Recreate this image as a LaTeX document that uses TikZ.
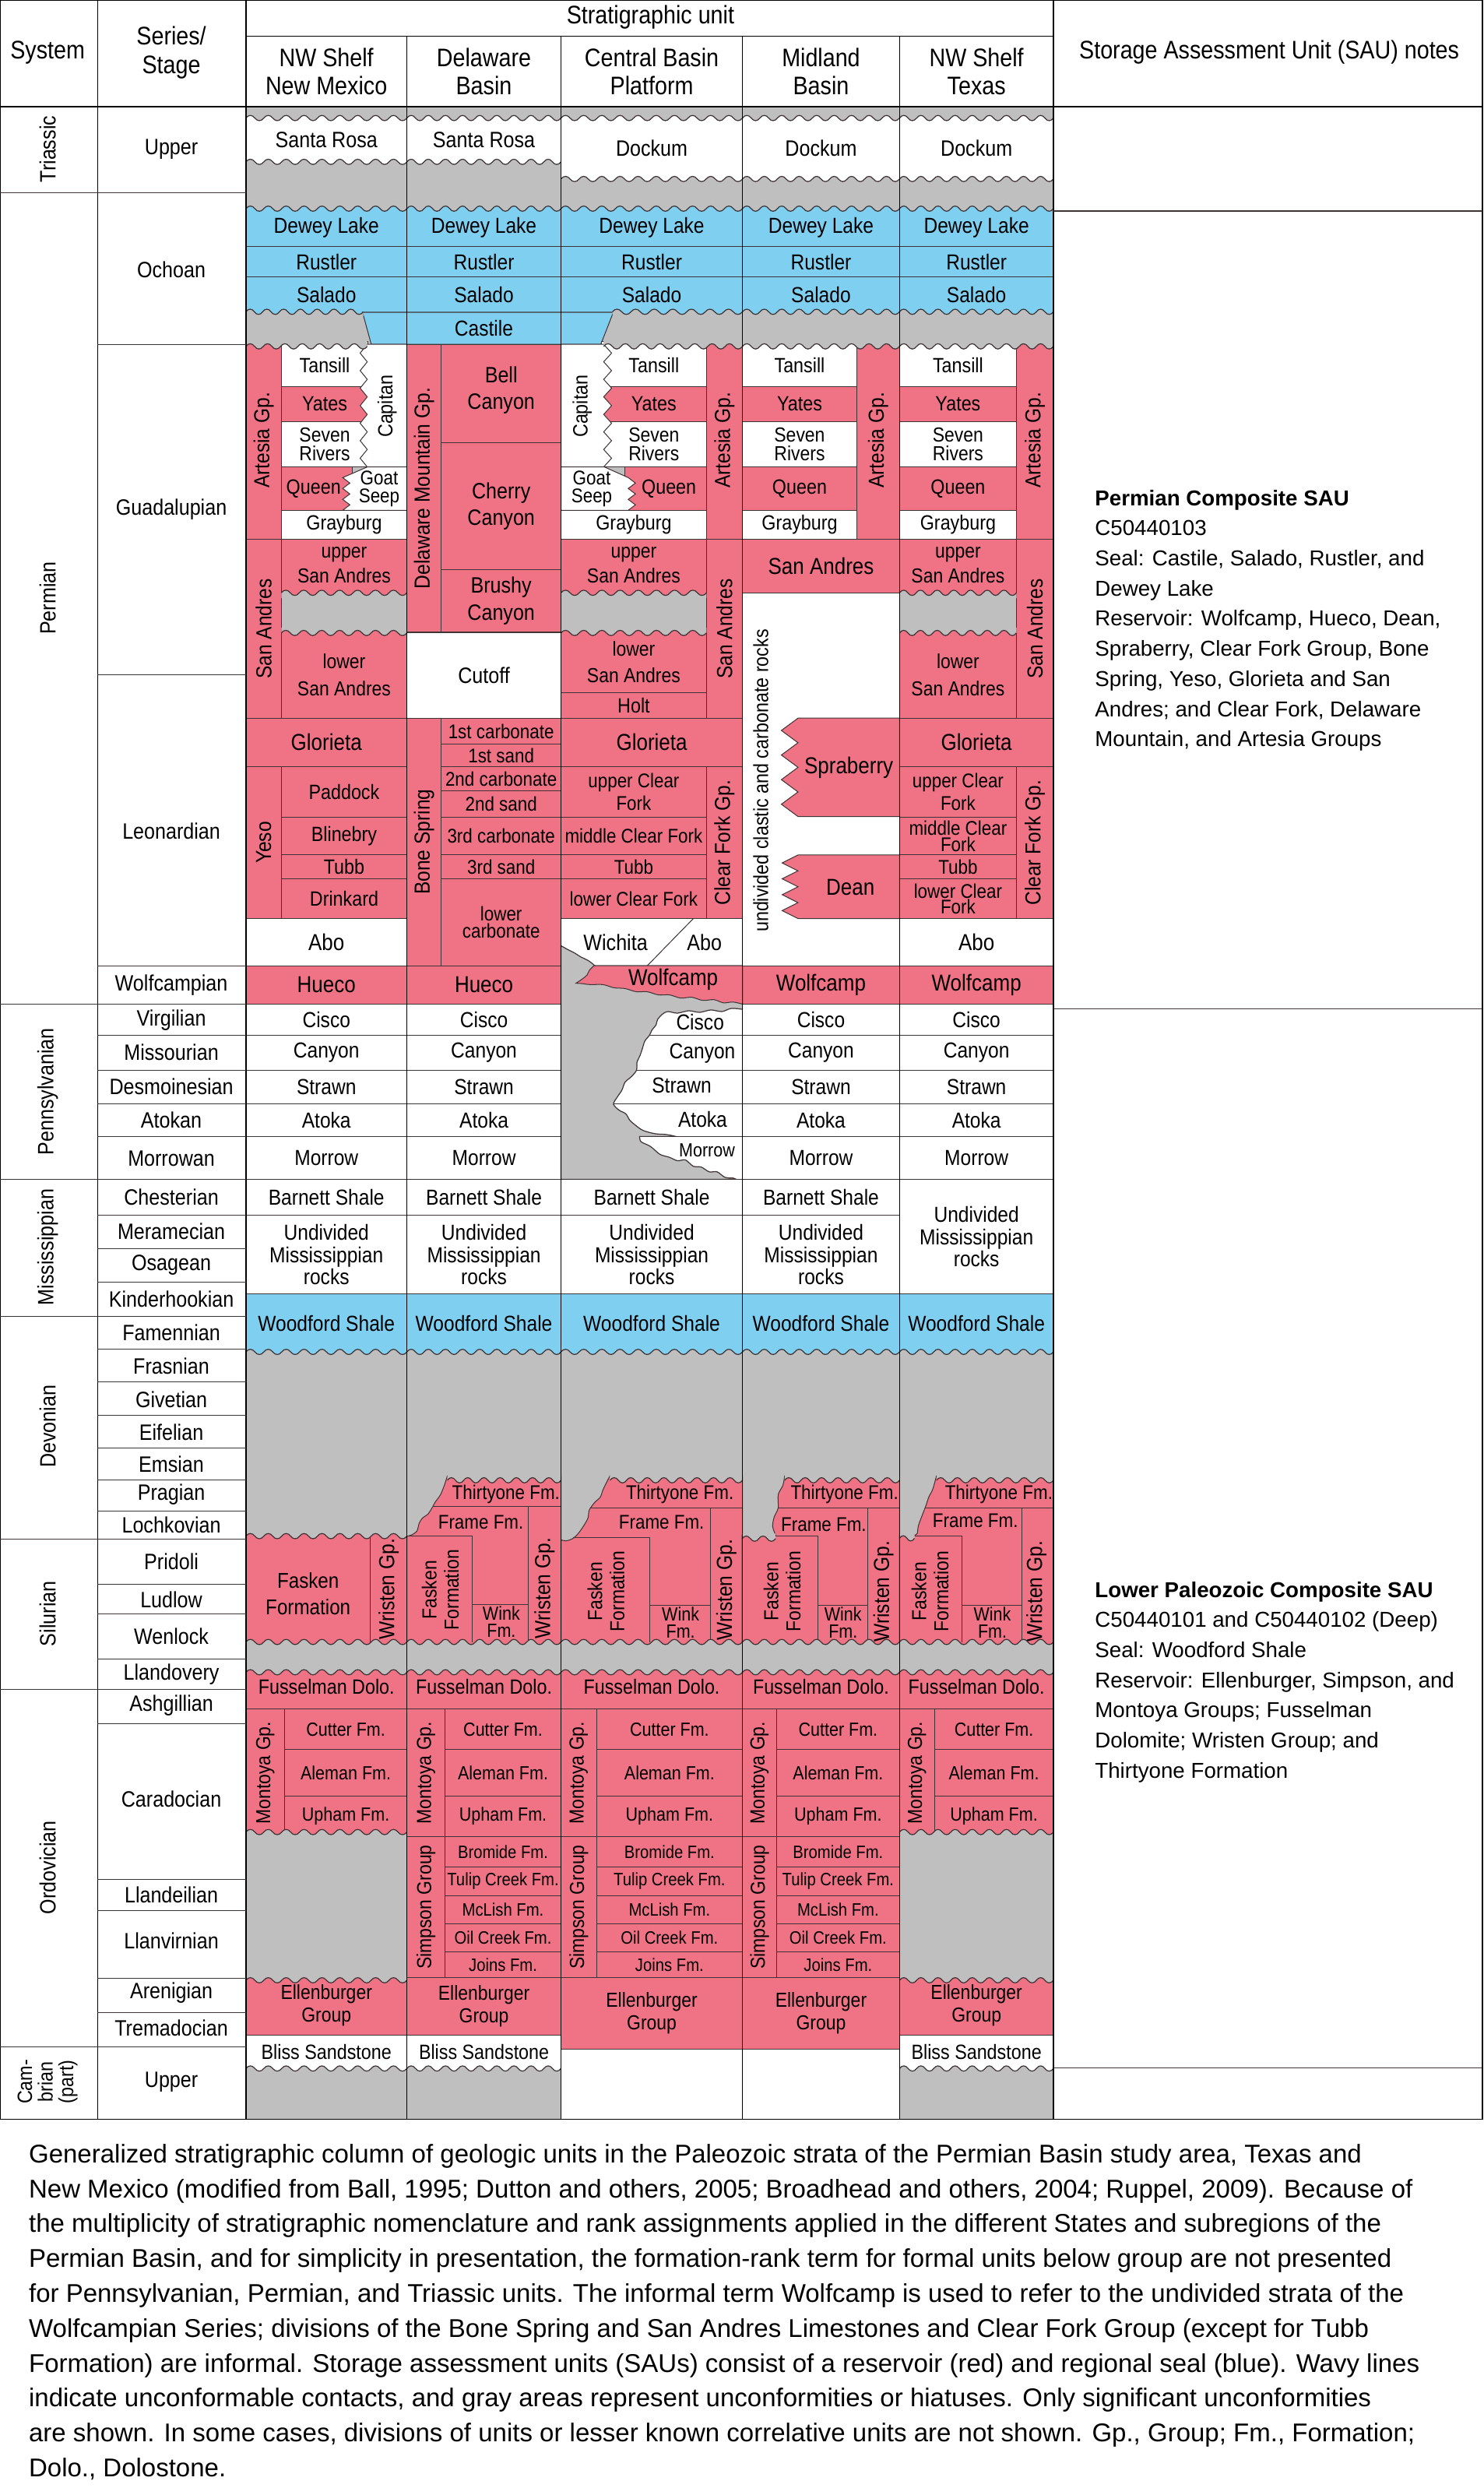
\documentclass[tikz,border=0pt]{standalone}
\usepackage{fontspec}
\setmainfont{Liberation Sans}
\newfontfamily\cf[FakeStretch=0.88]{Liberation Sans}
\usetikzlibrary{positioning}

\definecolor{resred}{RGB}{240,115,133}
\definecolor{sealblue}{RGB}{127,207,241}
\definecolor{gapgray}{RGB}{191,191,191}
\definecolor{edgeline}{RGB}{62,52,54}

\tikzset{
  fs/.style={font=\cf\fontsize{#1}{#1}\selectfont},
  fsl/.style 2 args={font=\cf\fontsize{#1}{#2}\selectfont},
  lbl/.style={fs=13, align=center, inner sep=0pt},
  vlbl/.style={lbl, rotate=90, fs=13.7},
  ru/.style={draw=edgeline, line width=0.5pt, fill=resred},
  bu/.style={draw=edgeline, line width=0.5pt, fill=sealblue},
  wu/.style={draw=edgeline, line width=0.5pt, fill=white},
  wavy/.style={draw=edgeline, line width=0.6pt},
  divline/.style={draw=edgeline, line width=0.5pt},
  colrule/.style={draw=black, line width=0.7pt},
}

% unit box with its label in the middle
\NewDocumentCommand\cellbox{O{ru} m m m m O{} m}{%
  \path[#1] (#2,#3) rectangle (#4,#5);
  \node[lbl,#6] at ({(#2+#4)/2},{(#3+#5)/2}) {#7};}
\NewDocumentCommand\vcellbox{O{ru} m m m m O{} m}{%
  \path[#1] (#2,#3) rectangle (#4,#5);
  \node[vlbl,#6] at ({(#2+#4)/2},{(#3+#5)/2}) {#7};}
% wavy contact: gray from the wave to #4
\newcommand\wamp{2.2}
\newcommand\setwave[2]{\pgfmathtruncatemacro\wn{max(1,round((#2-#1)/11))}\pgfmathsetmacro\wlen{(#2-#1)/\wn}}
\newcommand\wpath[2]{foreach \k in {1,...,\wn}{ .. controls ({#1+(\k-0.85)*\wlen},{#2-\wamp}) and ({#1+(\k-0.65)*\wlen},{#2-\wamp}) .. ({#1+(\k-0.5)*\wlen},{#2}) .. controls ({#1+(\k-0.35)*\wlen},{#2+\wamp}) and ({#1+(\k-0.15)*\wlen},{#2+\wamp}) .. ({#1+\k*\wlen},{#2}) }}
\newcommand\wcap[4]{\setwave{#1}{#2}%
  \fill[gapgray] (#1,#4) -- (#1,#3) \wpath{#1}{#3} -- (#2,#4) -- cycle;
  \draw[wavy] (#1,#3) \wpath{#1}{#3};}
% interfingering edge
\newcommand\zig[5]{foreach \k in {1,...,#5}{ -- ({#2},{#3+(\k-0.5)*(#4-#3)/#5}) -- ({#1},{#3+\k*(#4-#3)/#5}) }}

\begin{document}
\begin{tikzpicture}[x=1pt,y=-1pt]
\useasboundingbox (0,0) rectangle (935,1568);
\fill[white] (0,0) rectangle (935,1568);
% hiatus background
\fill[gapgray] (155,67) rectangle (664,1335.5);

% ---- Triassic
\cellbox[wu]{155}{71.9}{256.5}{104.5}[fs=14]{Santa Rosa}
\cellbox[wu]{256.5}{71.9}{353.6}{104.5}[fs=14]{Santa Rosa}
\foreach \xa/\xb in {353.6/468,468/567,567/664}
  {\cellbox[wu]{\xa}{71.9}{\xb}{115.3}[fs=14]{Dockum}}
\foreach \xa/\xb in {155/256.5,256.5/353.6,353.6/468,468/567,567/664}
  {\wcap{\xa}{\xb}{74.4}{70.5}}
\foreach \xa/\xb in {155/256.5,256.5/353.6}{\wcap{\xa}{\xb}{102}{105.8}}
\foreach \xa/\xb in {353.6/468,468/567,567/664}{\wcap{\xa}{\xb}{112.8}{116.6}}

% ---- Ochoan (seal)
\foreach \xa/\xb in {155/256.5,256.5/353.6,353.6/468,468/567,567/664}{
  \cellbox[bu]{\xa}{129}{\xb}{155.3}[fs=13.7,yshift=-1.2]{Dewey Lake}
  \cellbox[bu]{\xa}{155.3}{\xb}{174.6}[fs=13.7]{Rustler}
  \cellbox[bu]{\xa}{174.6}{\xb}{199}[fs=13.7,yshift=1.2]{Salado}
  \wcap{\xa}{\xb}{131.5}{127.8}}
\filldraw[bu] (228.5,196.8) -- (386.6,196.8) -- (378.7,217) -- (234,217) -- cycle;
\node[lbl,fs=13.7] at (305,207) {Castile};
\wcap{155}{229}{196.5}{199.6}
\foreach \xa/\xb in {386/468,468/567,567/664}{\wcap{\xa}{\xb}{196.5}{199.6}}

% ---- Guadalupian, NW Shelf New Mexico
\vcellbox{155}{215}{177.3}{340}{Artesia Gp.}
\cellbox[wu]{177.3}{215}{232}{243.6}[yshift=-1]{Tansill}
\cellbox{177.3}{243.6}{232}{265.7}{Yates}
\cellbox[wu]{177.3}{265.7}{232}{294.3}[fsl={12.8}{12}]{Seven\\Rivers}
\filldraw[wu] (256.5,217) -- (231.5,217) \zig{231.5}{227}{217}{294.3}{7} -- (256.5,294.3) -- cycle;
\node[vlbl,fs=13] at (244,256) {Capitan};
\cellbox{177.3}{294.3}{222}{321.6}[xshift=-2]{Queen}
\filldraw[wu] (256.5,294.3) -- (231.5,294.3) -- (216,301) \zig{216}{220.5}{301}{321.6}{3} -- (256.5,321.6) -- cycle;
\node[lbl,fsl={12.5}{11}] at (239,308) {Goat\\Seep};
\cellbox[wu]{177.3}{321.6}{256.5}{340}{Grayburg}
% Delaware Basin
\vcellbox{256.5}{217}{278.2}{398.5}{Delaware Mountain Gp.}
\cellbox{278.2}{217}{353.6}{279}[fsl={14}{17},yshift=2]{Bell\\Canyon}
\cellbox{278.2}{279}{353.6}{359}[fsl={14}{17}]{Cherry\\Canyon}
\cellbox{278.2}{359}{353.6}{398.5}[fsl={14}{17}]{Brushy\\Canyon}
\cellbox[wu]{256.5}{398.5}{353.6}{452.6}[fs=14]{Cutoff}
% Central Basin Platform
\cellbox[wu]{379}{215}{445.3}{243.6}[yshift=-1]{Tansill}
\cellbox{379}{243.6}{445.3}{265.7}{Yates}
\cellbox[wu]{379}{265.7}{445.3}{294.3}[fsl={12.8}{12}]{Seven\\Rivers}
\filldraw[wu] (353.6,217) -- (380.5,217) \zig{380.5}{385.5}{217}{294.3}{7} -- (353.6,294.3) -- cycle;
\node[vlbl,fs=13] at (367,256) {Capitan};
\cellbox{394}{294.3}{445.3}{321.6}[xshift=2]{Queen}
\filldraw[wu] (353.6,294.3) -- (381,294.3) -- (396,301) \zig{396}{400.5}{301}{321.6}{3} -- (353.6,321.6) -- cycle;
\node[lbl,fsl={12.5}{11}] at (373,308) {Goat\\Seep};
\cellbox[wu]{353.6}{321.6}{445.3}{340}{Grayburg}
\vcellbox{445.3}{215}{468}{340}{Artesia Gp.}
% Midland Basin
\cellbox[wu]{468}{215}{540}{243.6}[yshift=-1]{Tansill}
\cellbox{468}{243.6}{540}{265.7}{Yates}
\cellbox[wu]{468}{265.7}{540}{294.3}[fsl={12.8}{12}]{Seven\\Rivers}
\cellbox{468}{294.3}{540}{321.6}{Queen}
\cellbox[wu]{468}{321.6}{540}{340}{Grayburg}
\vcellbox{540}{215}{567}{340}{Artesia Gp.}
\cellbox{468}{340}{567}{373.6}[fs=14.5]{San Andres}
\path[wu] (468,373.6) rectangle (567,608.6);
\node[vlbl,fs=13] at (479.5,492) {undivided clastic and carbonate rocks};
\filldraw[ru] (567,452.6) -- (503,452.6) \zig{503}{492.5}{452.6}{514.6}{4} -- (567,514.6) -- cycle;
\node[lbl,fs=14.5] at (535,484) {Spraberry};
\filldraw[ru] (567,538.8) -- (503,538.8) \zig{503}{493}{538.8}{578.9}{4} -- (567,578.9) -- cycle;
\node[lbl,fs=14.5] at (536,559) {Dean};
% NW Shelf Texas
\cellbox[wu]{567}{215}{640.7}{243.6}[yshift=-1]{Tansill}
\cellbox{567}{243.6}{640.7}{265.7}{Yates}
\cellbox[wu]{567}{265.7}{640.7}{294.3}[fsl={12.8}{12}]{Seven\\Rivers}
\cellbox{567}{294.3}{640.7}{321.6}{Queen}
\cellbox[wu]{567}{321.6}{640.7}{340}{Grayburg}
\vcellbox{640.7}{215}{664}{340}{Artesia Gp.}
\wcap{155}{231.5}{218.3}{214.6}
\wcap{380.5}{468}{218.3}{214.6}
\wcap{468}{567}{218.3}{214.6}
\wcap{567}{664}{218.3}{214.6}
% San Andres
\foreach \xa/\xb in {155/177.3,445.3/468,640.7/664}{\vcellbox{\xa}{340}{\xb}{452.6}{San Andres}}
\foreach \xa/\xb in {177.3/256.5,353.6/445.3,567/640.7}{
  \cellbox{\xa}{340}{\xb}{376.2}[fsl={12.8}{16},yshift=2]{upper\\San Andres}
  \wcap{\xa}{\xb}{373.6}{377}}
\foreach \xa/\xb in {177.3/256.5,567/640.7}{
  \cellbox{\xa}{396.3}{\xb}{452.6}[fsl={12.8}{17},yshift=-1]{lower\\San Andres}
  \wcap{\xa}{\xb}{398.9}{395.5}}
\cellbox{353.6}{396.3}{445.3}{436.3}[fsl={12.8}{17},yshift=-1]{lower\\San Andres}
\wcap{353.6}{445.3}{398.9}{395.5}
\cellbox{353.6}{436.3}{445.3}{452.6}{Holt}

% ---- Leonardian and Wolfcampian
\foreach \xa/\xb in {155/256.5,353.6/468,567/664}{\cellbox{\xa}{452.6}{\xb}{483.2}[fs=14.5]{Glorieta}}
\vcellbox{155}{483.2}{177.3}{578.9}{Yeso}
\cellbox{177.3}{483.2}{256.5}{515.1}{Paddock}
\cellbox{177.3}{515.1}{256.5}{538.8}{Blinebry}
\cellbox{177.3}{538.8}{256.5}{554}{Tubb}
\cellbox{177.3}{554}{256.5}{578.9}{Drinkard}
\cellbox[wu]{155}{578.9}{256.5}{608.6}[fs=14.5]{Abo}
\foreach \xa/\xb in {155/256.5,256.5/353.6}{\cellbox{\xa}{608.6}{\xb}{632.8}[fs=14.5]{Hueco}}
\vcellbox{256.5}{452.6}{278.2}{608.6}{Bone Spring}
\cellbox{278.2}{452.6}{353.6}{469}[fs=12.5]{1st carbonate}
\cellbox{278.2}{469}{353.6}{483.2}[fs=12.5]{1st sand}
\cellbox{278.2}{483.2}{353.6}{498.4}[fs=12.5]{2nd carbonate}
\cellbox{278.2}{498.4}{353.6}{515.1}[fs=12.5]{2nd sand}
\cellbox{278.2}{515.1}{353.6}{538.8}[fs=12.5]{3rd carbonate}
\cellbox{278.2}{538.8}{353.6}{554}[fs=12.5]{3rd sand}
\cellbox{278.2}{554}{353.6}{608.6}[fsl={12.5}{11}]{lower\\carbonate}
\cellbox{353.6}{483.2}{445.3}{515.1}[fsl={12.5}{14}]{upper Clear\\Fork}
\cellbox{353.6}{515.1}{445.3}{538.8}[fs=12.5]{middle Clear Fork}
\cellbox{353.6}{538.8}{445.3}{554}[fs=12.5]{Tubb}
\cellbox{353.6}{554}{445.3}{578.9}[fs=12.5]{lower Clear Fork}
\vcellbox{445.3}{483.2}{468}{578.9}{Clear Fork Gp.}
\cellbox{567}{483.2}{640.7}{515.1}[fsl={12.5}{14}]{upper Clear\\Fork}
\cellbox{567}{515.1}{640.7}{538.8}[fsl={12.5}{10}]{middle Clear\\Fork}
\cellbox{567}{538.8}{640.7}{554}[fs=12.5]{Tubb}
\cellbox{567}{554}{640.7}{578.9}[fsl={12.5}{10}]{lower Clear\\Fork}
\vcellbox{640.7}{483.2}{664}{578.9}{Clear Fork Gp.}
\cellbox[wu]{567}{578.9}{664}{608.6}[fs=14.5]{Abo}
\foreach \xa/\xb in {468/567,567/664}{\cellbox{\xa}{608.6}{\xb}{632.8}[fs=14.5]{Wolfcamp}}
\path[wu] (353.6,578.9) rectangle (468,608.6);
\draw[divline] (437,578.9) -- (408,608.6);

% ---- Pennsylvanian
\foreach \xa/\xb in {155/256.5,256.5/353.6,468/567,567/664}{
  \cellbox[wu]{\xa}{632.8}{\xb}{652.4}[fs=13.7]{Cisco}
  \cellbox[wu]{\xa}{652.4}{\xb}{674.5}[fs=13.7]{Canyon}
  \cellbox[wu]{\xa}{674.5}{\xb}{695.8}[fs=13.7]{Strawn}
  \cellbox[wu]{\xa}{695.8}{\xb}{716.2}[fs=13.7]{Atoka}
  \cellbox[wu]{\xa}{716.2}{\xb}{743.2}[fs=13.7]{Morrow}}
\foreach \ya/\yb in {632.8/652.4,652.4/674.5,674.5/695.8,695.8/716.2,716.2/743.2}
  {\path[wu] (353.6,\ya) rectangle (468,\yb);}
% hiatus wedge on the platform
\filldraw[fill=gapgray, draw=edgeline, line width=0.6pt] (353.6,596)
  -- plot[smooth] coordinates {(353.6,596) (358,598.5) (362,600.5) (366,603) (371,605.5) (375,608.6)}
  -- (468,608.6) -- (468,636.1)
  -- plot[smooth] coordinates {(468,636.1) (461,635.5) (455,637.5) (448,636.5) (441,638) (434,637) (427,638.5) (421,637.5) (417.7,639)
      (414.5,642.5) (413.5,646) (411,649) (409.4,652.4) (406.5,656) (405,660.5) (403.5,665) (401.5,669.5) (401.2,674.5)
      (398,678.5) (394,682) (392,687) (389,691.5) (386.7,695.8) (390,699.5) (394.5,702) (397,706) (401,709.5) (405.5,712.5) (413,714.5) (420,715) (426,716.2)}
  -- (403.2,716.2)
  -- plot[smooth] coordinates {(403.2,716.2) (404,719.5) (410,722.5) (416,727.5) (421.8,729.3) (427,731.5) (432,731) (437,735) (442,735.5) (447,738.5) (452,738.5) (457,742) (462.1,742.4)}
  -- (464,743.2) -- (353.6,743.2) -- cycle;
\filldraw[ru] (374.4,608.6) -- (468,608.6) -- (468,632.8)
  -- plot[smooth] coordinates {(468,632.8) (462,631.5) (456,632) (450,630) (443,630.5) (436,628.5) (429,629) (422,627) (415,627) (408,625) (401,625) (394,623) (387,622.5) (380,620.5) (372,620.5) (366,619.8) (363,619.7)}
  -- plot[smooth] coordinates {(363,619.7) (367,617) (370,614.5) (371.5,611.5) (374.4,608.6)} -- cycle;
\node[lbl,fs=14] at (388,594) {Wichita};
\node[lbl,fs=14] at (444,594) {Abo};
\node[lbl,fs=14.5] at (424.3,617.3) {Wolfcamp};
\node[lbl,fs=13.7] at (441.3,644.3) {Cisco};
\node[lbl,fs=13.7] at (442.7,663.9) {Canyon};
\node[lbl,fs=13.7] at (429.7,684.3) {Strawn};
\node[lbl,fs=13.7] at (442.9,705.6) {Atoka};
\node[lbl,fs=12] at (445.6,725.2) {Morrow};

% ---- Mississippian and Woodford seal
\foreach \xa/\xb in {155/256.5,256.5/353.6,353.6/468,468/567}{
  \cellbox[wu]{\xa}{743.2}{\xb}{765.8}[fs=13.7]{Barnett Shale}
  \cellbox[wu]{\xa}{765.8}{\xb}{815.5}[fsl={13.7}{14}]{Undivided\\Mississippian\\rocks}}
\cellbox[wu]{567}{743.2}{664}{815.5}[fsl={13.7}{14}]{Undivided\\Mississippian\\rocks}
\foreach \xa/\xb in {155/256.5,256.5/353.6,353.6/468,468/567,567/664}{
  \cellbox[bu]{\xa}{815.5}{\xb}{854.6}[fs=13.7,yshift=1]{Woodford Shale}
  \wcap{\xa}{\xb}{852}{855.6}}

% ---- Devonian and Silurian
\cellbox{155}{965.5}{233.4}{1037.4}[fsl={13.5}{17},yshift=-3]{Fasken\\Formation}
\vcellbox{233.4}{965.5}{256.5}{1037.4}{Wristen Gp.}
\wcap{155}{256.5}{968.1}{964.6}
% Delaware Basin
\filldraw[ru] (353.6,930) -- (282,930) -- plot[smooth] coordinates {(282,930) (280.3,935.4) (277.7,941.9) (274.2,946.8) (272.9,949.3) (269.8,954.2) (266.3,956.7) (264.2,960) (262.8,964.9) (259.3,967.4) (256.5,968.2)} -- (256.5,1037.4) -- (353.6,1037.4) -- cycle;
\draw[divline] (272.9,949.3) -- (353.6,949.3) (256.5,968.2) -- (297.5,968.2) -- (297.5,1034.8) (297.5,1011.4) -- (332.8,1011.4) (332.8,949.3) -- (332.8,1034.8);
\node[lbl,fs=12.5] at (318.9,941.5) {Thirtyone Fm.};
\node[lbl,fs=12.5] at (303.1,959.5) {Frame Fm.};
\node[vlbl,fsl={12.8}{14}] at (277.5,1002) {Fasken\\Formation};
\node[lbl,fsl={12}{10.5}] at (316,1022) {Wink\\Fm.};
\node[vlbl] at (343.2,1001) {Wristen Gp.};
% Central Basin Platform
\filldraw[ru] (468,930) -- (384.5,930) -- plot[smooth] coordinates {(384.5,930) (380.2,938.6) (378.4,943.5) (374.9,946.8) (371.4,951.7) (370.6,956.7) (367.9,961.6) (364.4,966.5) (360.9,969.7) (357,971) (353.6,970.5)} -- (353.6,1037.4) -- (468,1037.4) -- cycle;
\draw[divline] (372,950.4) -- (468,950.4) (361,969.2) -- (409.4,969.2) -- (409.4,1034.8) (409.4,1011.9) -- (447.8,1011.9) (447.8,950.4) -- (447.8,1034.8);
\node[lbl,fs=12.5] at (428.5,941.5) {Thirtyone Fm.};
\node[lbl,fs=12.5] at (417,959.5) {Frame Fm.};
\node[vlbl,fsl={12.8}{14}] at (382,1003) {Fasken\\Formation};
\node[lbl,fsl={12}{10.5}] at (429,1022.5) {Wink\\Fm.};
\node[vlbl] at (457.8,1002) {Wristen Gp.};
% Midland Basin
\filldraw[ru] (567,930) -- (494.6,930) -- plot[smooth] coordinates {(494.6,930) (493.5,936) (490.5,942) (490.5,950.4) (488,956) (487,962) (488.9,967.5)} -- (467.7,967.5) -- (467.7,1037.4) -- (567,1037.4) -- cycle;
\wcap{467.7}{488.9}{969.7}{966.5}
\draw[divline] (490.5,950.4) -- (567,950.4) (488.9,968.1) -- (515.6,968.1) -- (515.6,1034.8) (515.6,1011.9) -- (547,1011.9) (547,950.4) -- (547,1034.8);
\node[lbl,fs=12.5] at (532.3,941.5) {Thirtyone Fm.};
\node[lbl,fs=12.5] at (519.2,960.8) {Frame Fm.};
\node[vlbl,fsl={12.8}{14}] at (493,1003) {Fasken\\Formation};
\node[lbl,fsl={12}{10.5}] at (531.4,1022.5) {Wink\\Fm.};
\node[vlbl] at (556.8,1003) {Wristen Gp.};
% NW Shelf Texas
\filldraw[ru] (664,930) -- (590.3,930) -- plot[smooth] coordinates {(590.3,930) (587.9,938.6) (585.4,943.5) (583.8,948.4) (581.3,954.9) (578.9,961.5) (578.1,966.5) (576.4,967.5)} -- (567,967.5) -- (567,1037.4) -- (664,1037.4) -- cycle;
\wcap{567}{576.4}{969.5}{966.5}
\draw[divline] (583.2,950.4) -- (664,950.4) (576.4,968) -- (606.2,968) -- (606.2,1034.8) (606.2,1011.9) -- (644,1011.9) (644,950.4) -- (644,1034.8);
\node[lbl,fs=12.5] at (629.6,941.5) {Thirtyone Fm.};
\node[lbl,fs=12.5] at (614.8,958.6) {Frame Fm.};
\node[vlbl,fsl={12.8}{14}] at (586.2,1003) {Fasken\\Formation};
\node[lbl,fsl={12}{10.5}] at (625.5,1022.5) {Wink\\Fm.};
\node[vlbl] at (653.3,1003) {Wristen Gp.};
\foreach \xa/\xb in {282/353.6,384.5/468,494.6/567,590.3/664}{\wcap{\xa}{\xb}{932.9}{929.3}}
\foreach \xa/\xb in {155/256.5,256.5/353.6,353.6/468,468/567,567/664}{\wcap{\xa}{\xb}{1034.8}{1038.5}}

% ---- Ordovician and Cambrian
\foreach \xa/\xb in {155/256.5,256.5/353.6,353.6/468,468/567,567/664}{
  \cellbox{\xa}{1051.3}{\xb}{1077.1}[fs=13,yshift=1]{Fusselman Dolo.}
  \wcap{\xa}{\xb}{1053.9}{1050.3}}
\foreach \xa/\xm/\xb in {155/179.4/256.5,256.5/280.5/353.6,353.6/376/468,468/489.5/567,567/589/664}{
  \vcellbox{\xa}{1077.1}{\xm}{1157.4}[fs=12.8]{Montoya Gp.}
  \cellbox{\xm}{1077.1}{\xb}{1102.5}[fs=12]{Cutter Fm.}
  \cellbox{\xm}{1102.5}{\xb}{1131.8}[fs=12]{Aleman Fm.}
  \cellbox{\xm}{1131.8}{\xb}{1157.4}[fs=12]{Upham Fm.}}
\foreach \xa/\xb in {155/256.5,567/664}{
  \wcap{\xa}{\xb}{1154.6}{1158.2}
  \cellbox{\xa}{1245.5}{\xb}{1282.4}[fsl={12.8}{14}]{Ellenburger\\Group}
  \wcap{\xa}{\xb}{1248}{1244.4}}
\foreach \xa/\xm/\xb in {256.5/280.5/353.6,353.6/376/468,468/489.5/567}{
  \vcellbox{\xa}{1157.4}{\xm}{1246.5}[fs=12.8]{Simpson Group}
  \cellbox{\xm}{1157.4}{\xb}{1176.5}[fs=11.3]{Bromide Fm.}
  \cellbox{\xm}{1176.5}{\xb}{1194.8}[fs=11.3]{Tulip Creek Fm.}
  \cellbox{\xm}{1194.8}{\xb}{1212.5}[fs=11.3]{McLish Fm.}
  \cellbox{\xm}{1212.5}{\xb}{1230.1}[fs=11.3]{Oil Creek Fm.}
  \cellbox{\xm}{1230.1}{\xb}{1246.5}[fs=11.3]{Joins Fm.}}
\cellbox{256.5}{1246.5}{353.6}{1282.4}[fsl={12.8}{14}]{Ellenburger\\Group}
\cellbox{353.6}{1246.5}{468}{1291.2}[fsl={12.8}{14}]{Ellenburger\\Group}
\cellbox{468}{1246.5}{567}{1291.2}[fsl={12.8}{14}]{Ellenburger\\Group}
\fill[white] (353.8,1291.5) rectangle (567,1335.5);
\foreach \xa/\xb in {155/256.5,256.5/353.6,567/664}{
  \cellbox[wu]{\xa}{1282.4}{\xb}{1306.2}[fs=13,yshift=1.2]{Bliss Sandstone}
  \wcap{\xa}{\xb}{1303.6}{1307.3}}

% ---- frame and rules
\draw[colrule] (0,0) rectangle (934.5,1335.5);
\draw[colrule, line width=1pt] (0,67) -- (934.5,67);
\draw[colrule] (155,22.9) -- (664,22.9);
\foreach \x in {61.5,155,664}{\draw[colrule] (\x,0) -- (\x,1335.5);}
\foreach \x in {256.5,353.6,468,567}{\draw[colrule] (\x,22.9) -- (\x,1335.5);}
\foreach \y in {121.3,632.8,743.2,829.5,970.2,1064.5,1290}{\draw[divline] (0,\y) -- (155,\y);}
\foreach \y in {217,425.2,608.6,652.4,674.5,695.8,716.2,765.8,786.9,807.8,850.2,871,892,912.5,932.9,952.2,998.3,1017.1,1045.7,1086.1,1184.6,1204.2,1246.6,1268.4}
  {\draw[divline] (61.5,\y) -- (155,\y);}
\foreach \y in {133,636,1303}{\draw[divline] (664,\y) -- (934.5,\y);}

% ---- headings
\node[lbl,fs=16] (syshead) at (30,33) {System};
\node[lbl,fsl={16}{18}] (serhead) at (108,33) {Series/\\Stage};
\node[lbl,fs=16] (unithead) at (410,11) {Stratigraphic unit};
\node[lbl,fsl={16}{18}] at (205.7,45) {NW Shelf\\New Mexico};
\node[lbl,fsl={16}{18}] at (305,45) {Delaware\\Basin};
\node[lbl,fsl={16}{18}] at (410.8,45) {Central Basin\\Platform};
\node[lbl,fsl={16}{18}] at (517.5,45) {Midland\\Basin};
\node[lbl,fsl={16}{18}] at (615.5,45) {NW Shelf\\Texas};
\node[lbl,fs=16] (sauhead) at (800,33) {Storage Assessment Unit (SAU) notes};
\foreach \y/\t in {94/Triassic,377/Permian,688/Pennsylvanian,786/Mississippian,899/Devonian,1017/Silurian,1177/Ordovician}
  {\node[vlbl,fs=14] at (30,\y) {\t};}
\node[vlbl,fsl={13}{13}] at (30,1312) {Cam-\\brian\\(part)};
\foreach \y/\t in {94/Upper,170/Ochoan,321/Guadalupian,524/Leonardian,621/Wolfcampian,643/Virgilian,663/Missourian,685/Desmoinesian,706/Atokan,730/Morrowan,
  754.5/Chesterian,776/Meramecian,797/Osagean,818.5/Kinderhookian,840/Famennian,861/Frasnian,882/Givetian,902.5/Eifelian,923/Emsian,942/Pragian,961/Lochkovian,
  984/Pridoli,1008/Ludlow,1031/Wenlock,1055/Llandovery,1075/Ashgillian,1134/Caradocian,1194/Llandeilian,1223/Llanvirnian,1256/Arenigian,1278/Tremadocian,1312/Upper}
  {\node[lbl,fs=14] at (108,\y) {\t};}

% ---- SAU notes
\node[anchor=north west, align=left, inner sep=0pt, font=\fontsize{13.6}{19}\selectfont] (permsau) at (690,308.5)
  {\textbf{Permian Composite SAU}\\C50440103\\Seal: Castile, Salado, Rustler, and\\Dewey Lake\\Reservoir: Wolfcamp, Hueco, Dean,\\Spraberry, Clear Fork Group, Bone\\Spring, Yeso, Glorieta and San\\Andres; and Clear Fork, Delaware\\Mountain, and Artesia Groups};
\node[anchor=north west, align=left, inner sep=0pt, font=\fontsize{13.6}{19}\selectfont] (lpsau) at (690,996.5)
  {\textbf{Lower Paleozoic Composite SAU}\\C50440101 and C50440102 (Deep)\\Seal: Woodford Shale\\Reservoir: Ellenburger, Simpson, and\\Montoya Groups; Fusselman\\Dolomite; Wristen Group; and\\Thirtyone Formation};

% ---- caption
\node[anchor=north west, align=left, inner sep=0pt, font=\fontsize{16.2}{22}\selectfont] (caption) at (18,1351)
  {Generalized stratigraphic column of geologic units in the Paleozoic strata of the Permian Basin study area, Texas and\\
   New Mexico (modified from Ball, 1995; Dutton and others, 2005; Broadhead and others, 2004; Ruppel, 2009). Because of\\
   the multiplicity of stratigraphic nomenclature and rank assignments applied in the different States and subregions of the\\
   Permian Basin, and for simplicity in presentation, the formation-rank term for formal units below group are not presented\\
   for Pennsylvanian, Permian, and Triassic units. The informal term Wolfcamp is used to refer to the undivided strata of the\\
   Wolfcampian Series; divisions of the Bone Spring and San Andres Limestones and Clear Fork Group (except for Tubb\\
   Formation) are informal. Storage assessment units (SAUs) consist of a reservoir (red) and regional seal (blue). Wavy lines\\
   indicate unconformable contacts, and gray areas represent unconformities or hiatuses. Only significant unconformities\\
   are shown. In some cases, divisions of units or lesser known correlative units are not shown. Gp., Group; Fm., Formation;\\
   Dolo., Dolostone.};
\end{tikzpicture}
\end{document}
